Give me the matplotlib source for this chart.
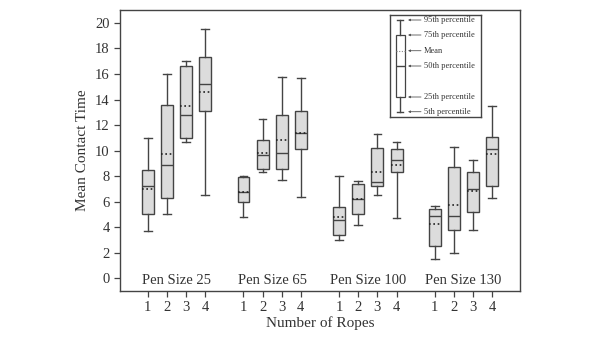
import matplotlib
matplotlib.use("Agg")
import matplotlib.pyplot as plt

plt.rcParams['font.family'] = ['Liberation Serif', 'DejaVu Serif']

pen_sizes = ["Pen Size 25", "Pen Size 65", "Pen Size 100", "Pen Size 130"]
ropes = [1, 2, 3, 4]

# per box, ordered pen size then rope count
p5 = [3.7, 5.0, 10.7, 6.5, 4.8, 8.3, 7.7, 6.4, 3.0, 4.2, 6.5, 4.7, 1.5, 2.0, 3.8, 6.25]
p25 = [5.0, 6.25, 11.0, 13.1, 6.0, 8.55, 8.55, 10.1, 3.4, 5.07, 7.2, 8.3, 2.5, 3.76, 5.15, 7.24]
p50 = [7.24, 8.84, 12.8, 15.2, 6.75, 9.62, 9.8, 11.4, 4.6, 6.22, 7.56, 9.3, 4.89, 4.84, 6.98, 10.1]
means = [7.0, 9.73, 13.5, 14.6, 6.75, 9.78, 10.8, 11.4, 4.8, 6.22, 8.29, 8.86, 4.26, 5.72, 6.8, 9.7]
p75 = [8.5, 13.6, 16.6, 17.3, 7.95, 10.8, 12.8, 13.1, 5.6, 7.37, 10.2, 10.1, 5.46, 8.68, 8.29, 11.1]
p95 = [11.0, 16.0, 17.0, 19.5, 8.0, 12.5, 15.75, 15.7, 8.0, 7.63, 11.3, 10.67, 5.65, 10.27, 9.3, 13.5]

legend_labels = ["95th percentile", "75th percentile", "Mean",
                 "50th percentile", "25th percentile", "5th percentile"]

edge = "#444444"

fig = plt.figure(figsize=(6, 3.38), dpi=100)
ax = fig.add_axes([0.2, 0.139, 0.6667, 0.831])

stats = []
positions = []
for i in range(len(p50)):
    g, r = divmod(i, 4)
    positions.append(g * 5 + ropes[r])
    stats.append(dict(whislo=p5[i], q1=p25[i], med=p50[i], mean=means[i],
                      q3=p75[i], whishi=p95[i], fliers=[]))

box_kw = dict(
    widths=0.62, patch_artist=True, showmeans=True, meanline=True,
    boxprops=dict(facecolor="#dcdcdc", edgecolor=edge, linewidth=1.0),
    medianprops=dict(color=edge, linewidth=1.0),
    meanprops=dict(color="#222222", linestyle=(0, (1, 1.6)), linewidth=1.2),
    whiskerprops=dict(color=edge, linewidth=1.0),
    capprops=dict(color=edge, linewidth=1.0),
    capwidths=0.4,
)
ax.bxp(stats, positions=positions, **box_kw)

ax.set_xlim(-0.45, 20.45)
ax.set_ylim(-1, 21)
ax.set_yticks(range(0, 21, 2))
ax.set_xticks(positions)
ax.set_xticklabels([str(ropes[i % 4]) for i in range(len(positions))])
ax.tick_params(labelsize=10.5, length=4, width=0.9, color=edge, labelcolor="#333333")
for s in ax.spines.values():
    s.set_color(edge)
    s.set_linewidth(1.0)
ax.set_xlabel("Number of Ropes", fontsize=11, color="#333333", labelpad=1)
ax.set_ylabel("Mean Contact Time", fontsize=11, color="#333333", labelpad=4)

for g, name in enumerate(pen_sizes):
    ax.text(g * 5 + 2.5, -0.2, name, ha="center", va="center",
            fontsize=10.5, color="#333333")

# key box in the upper right
lg = fig.add_axes([390 / 600, 1 - 117 / 338, 91 / 600, 102 / 338])
key_levels = [97, 82, 66.3, 51, 20, 5.3]
key = dict(whislo=key_levels[5], q1=key_levels[4], med=key_levels[3],
           mean=key_levels[2], q3=key_levels[1], whishi=key_levels[0], fliers=[])
kw = dict(box_kw)
kw.update(widths=9, capwidths=6, manage_ticks=False,
          boxprops=dict(facecolor="white", edgecolor=edge, linewidth=0.9),
          meanprops=dict(color="#888888", linestyle=(0, (1, 1.4)), linewidth=0.8))
lg.bxp([key], positions=[10], **kw)
lg.set_xlim(0, 91)
lg.set_ylim(0, 102)
lg.set_xticks([])
lg.set_yticks([])
for s in lg.spines.values():
    s.set_color(edge)
    s.set_linewidth(1.0)
for yv, lab in zip(key_levels, legend_labels):
    lg.annotate("", xy=(18, yv), xytext=(31, yv),
                arrowprops=dict(arrowstyle="-|>", color="#555555", lw=0.6,
                                mutation_scale=3, shrinkA=0, shrinkB=0))
    lg.text(34, yv, lab, ha="left", va="center", fontsize=6, color="#333333")

fig.savefig("out.png", dpi=100)
